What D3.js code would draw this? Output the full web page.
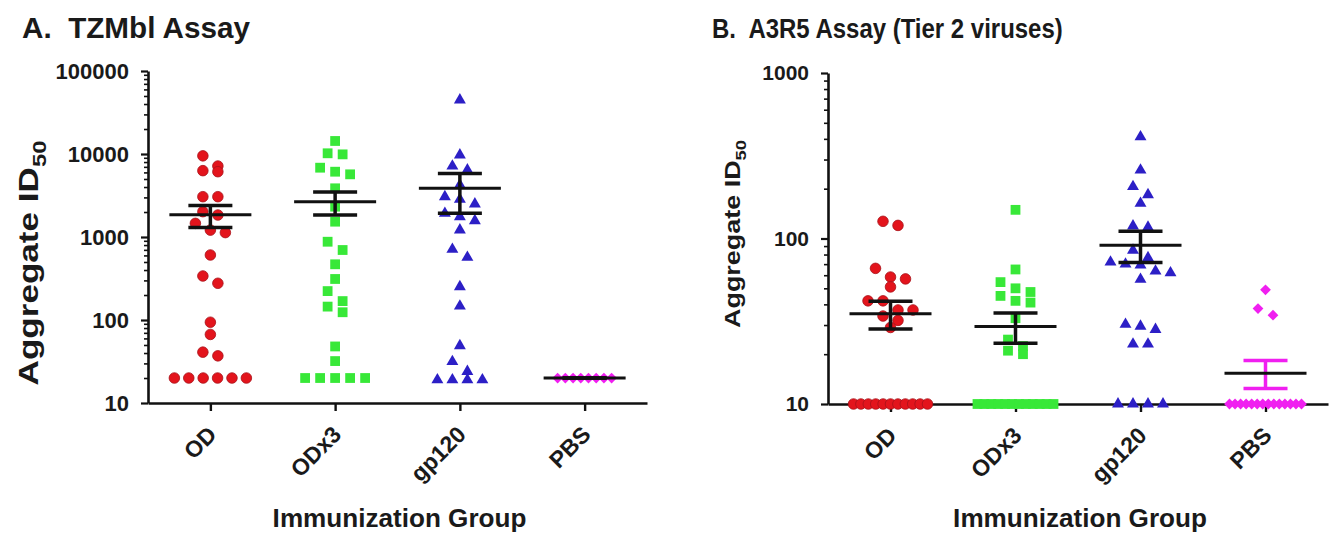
<!DOCTYPE html>
<html>
<head>
<meta charset="utf-8">
<script src="https://cdn.jsdelivr.net/npm/d3@7"></script>
<style>
  body { margin: 0; background: #fff; }
  text { font-family: "Liberation Sans", Arial, sans-serif; font-weight: bold; fill: #1a1a1a; }
</style>
</head>
<body>
<svg id="chart" width="1339" height="535"></svg>
<script>
// groups on the x axis
const groups = ["OD", "ODx3", "gp120", "PBS"];

// A. TZMbl assay, aggregate ID50 per animal
const tzmOD    = [9500, 7160, 6300, 6120, 3060, 3060, 2020, 1840, 1460, 1210, 1130, 607, 339, 277, 94, 67, 41, 37, 20, 20, 20, 20, 20, 20];
const tzmODx3  = [14350, 10200, 9900, 6840, 6120, 5690, 3860, 2320, 1530, 877, 697, 469, 312, 223, 169, 145, 124, 48, 32, 20, 20, 20, 20, 20];
const tzmGp120 = [44770, 9720, 7160, 6410, 4230, 3060, 2845, 2500, 1928, 1757, 1570, 1214, 711, 569, 252, 147, 49, 31.5, 24, 19, 19, 19, 19];
const tzmPBS   = [20, 20, 20, 20, 20, 20, 20, 20];
const tzmTicks = [10, 100, 1000, 10000, 100000];

// B. A3R5 assay (tier 2 viruses)
const a3OD    = [127, 120, 66, 58.5, 57, 51, 42, 42, 37, 37, 34, 32, 29, 10, 10, 10, 10, 10, 10, 10, 10, 10, 10, 10];
const a3ODx3  = [149, 65, 54.5, 50, 47.5, 45, 42, 41, 33, 24.5, 22.4, 21, 20, 10, 10, 10, 10, 10, 10, 10, 10, 10, 10, 10, 10];
const a3Gp120 = [411, 259, 206, 184, 163, 119, 117, 85, 76.5, 72, 70, 69, 63.5, 62, 56.6, 30.3, 29.5, 28.2, 23, 23, 10, 10, 10, 10];
const a3PBS   = [49, 37.7, 34.4, 10, 10, 10, 10, 10, 10, 10, 10, 10, 10, 10, 10, 10, 10];
const a3Ticks = [10, 100, 1000];

const colors  = ["#e3141c", "#38e838", "#2c1fc6", "#f01ff0"];
const symbols = [d3.symbolCircle, d3.symbolSquare, d3.symbolTriangle, d3.symbolSquare];
const symSize = [88, 96, 62, 58];
const symRot  = [0, 0, 0, 45];

const svg = d3.select("#chart");
const FONT = '"Liberation Sans", Arial, sans-serif';

// scale a text horizontally so it spans a given length
function fit(g, len) {
  const w = g.select("text").node().getBBox().width;
  return len / w;
}

function drawPanel(p) {
  const x = d3.scalePoint().domain(groups).range([p.x0, p.x1]).padding(0.5);
  const y = d3.scaleLog().domain(p.domain).range([p.yBottom, p.yTop]);
  const g = svg.append("g");

  // minor ticks
  const minors = y.ticks().filter(d => Math.abs(Math.log10(d) - Math.round(Math.log10(d))) > 1e-6);
  g.append("g")
    .attr("transform", `translate(${p.x0},0)`)
    .call(d3.axisLeft(y).tickValues(minors).tickSize(4).tickSizeOuter(0).tickFormat(""))
    .call(a => a.select(".domain").remove())
    .call(a => a.selectAll("line").attr("stroke", "#111").attr("stroke-width", 1.6));

  // y axis
  g.append("g")
    .attr("transform", `translate(${p.x0},0)`)
    .call(d3.axisLeft(y).tickValues(p.ticks).tickSize(7).tickPadding(12).tickSizeOuter(0).tickFormat(d3.format("d")))
    .call(a => a.select(".domain").attr("stroke", "#111").attr("stroke-width", 2.6))
    .call(a => a.selectAll("line").attr("stroke", "#111").attr("stroke-width", 2.2))
    .call(a => a.selectAll("text").attr("font-size", p.tickFont).attr("fill", "#1a1a1a")
      .style("font-family", FONT).style("font-weight", "bold"));

  // x axis
  g.append("g")
    .attr("transform", `translate(0,${p.yBottom})`)
    .call(d3.axisBottom(x).tickSize(8).tickSizeOuter(0))
    .call(a => a.select(".domain").attr("stroke", "#111").attr("stroke-width", 2.6))
    .call(a => a.selectAll("line").attr("stroke", "#111").attr("stroke-width", 2.4))
    .call(a => a.selectAll("text")
      .attr("font-size", 23)
      .style("font-family", FONT).style("font-weight", "bold")
      .attr("fill", "#1a1a1a")
      .attr("text-anchor", "end")
      .attr("dy", null).attr("y", null)
      .attr("transform", "translate(7,33) rotate(-45)"));

  // points, rows of similar height spread side by side
  p.series.forEach((vals, i) => {
    const cx = x(groups[i]);
    const sorted = vals.slice().sort((a, b) => b - a);
    const rows = [];
    sorted.forEach(v => {
      const py = y(v);
      const row = rows[rows.length - 1];
      if (row && py - row.y0 < 11) row.items.push(v);
      else rows.push({ y0: py, items: [v] });
    });
    const pts = [];
    rows.forEach(r => {
      const n = r.items.length;
      const step = Math.min(15, n > 1 ? p.rowMax[i] / (n - 1) : 15);
      r.items.forEach((v, k) => pts.push({ v, dx: (k - (n - 1) / 2) * step }));
    });
    g.append("g").selectAll("path").data(pts).join("path")
      .attr("d", d3.symbol(symbols[i], symSize[i]))
      .attr("transform", d => `translate(${cx + d.dx},${y(d.v)}) rotate(${symRot[i]})`)
      .attr("fill", colors[i])
      .attr("stroke", i === 0 ? "#a8131a" : "none")
      .attr("stroke-width", 0.8);

    // mean and SEM
    const m = d3.mean(vals);
    const sem = d3.deviation(vals) / Math.sqrt(vals.length);
    const ec = p.errColors[i];
    const eg = g.append("g").attr("stroke-linecap", "butt");
    eg.append("line").attr("x1", cx).attr("x2", cx).attr("y1", y(m + sem)).attr("y2", y(Math.max(m - sem, p.domain[0])))
      .attr("stroke", ec).attr("stroke-width", 3.5);
    [m + sem, m - sem].forEach(v => {
      if (v <= p.domain[0]) return;
      eg.append("line").attr("x1", cx - 22).attr("x2", cx + 22).attr("y1", y(v)).attr("y2", y(v))
        .attr("stroke", ec).attr("stroke-width", 3.5);
    });
    eg.append("line").attr("x1", cx - 41).attr("x2", cx + 41).attr("y1", y(m)).attr("y2", y(m))
      .attr("stroke", "#111").attr("stroke-width", 3);
  });

  // title
  const tg = svg.append("g");
  tg.append("text").attr("font-size", p.titleFont).text(p.title);
  tg.attr("transform", `translate(${p.titleX},38) scale(${fit(tg, p.titleLen)},1)`);

  // y label
  const yg = svg.append("g");
  const yt = yg.append("text").attr("font-size", p.labFont).attr("text-anchor", "middle");
  yt.append("tspan").text("Aggregate ID");
  yt.append("tspan").attr("font-size", p.labFont * 0.68).attr("dy", p.labFont * 0.28).text("50");
  yg.attr("transform", `translate(${p.labX},${p.labY}) rotate(-90) scale(${fit(yg, p.labLen)},1)`);

  // x label
  const xg = svg.append("g");
  xg.append("text").attr("font-size", 25).attr("text-anchor", "middle").text("Immunization Group");
  xg.attr("transform", `translate(${(p.x0 + p.x1) / 2 + 2},527) scale(${fit(xg, 254)},1)`);
}

drawPanel({
  x0: 148, x1: 647, yTop: 71, yBottom: 403, domain: [10, 100000], ticks: tzmTicks,
  series: [tzmOD, tzmODx3, tzmGp120, tzmPBS], errColors: ["#111", "#111", "#111", "#111"],
  rowMax: [72, 72, 72, 54],
  tickFont: 22, title: "A.\u00a0 TZMbl Assay", titleX: 22, titleFont: 29, titleLen: 228,
  labX: 38, labY: 263, labFont: 27, labLen: 245
});

drawPanel({
  x0: 828, x1: 1328, yTop: 73, yBottom: 404, domain: [10, 1000], ticks: a3Ticks,
  series: [a3OD, a3ODx3, a3Gp120, a3PBS], errColors: ["#111", "#111", "#111", colors[3]],
  rowMax: [74, 76, 72, 72],
  tickFont: 21, title: "B.\u00a0 A3R5 Assay (Tier 2 viruses)", titleX: 712, titleFont: 27, titleLen: 351,
  labX: 740, labY: 234, labFont: 22, labLen: 188
});
</script>
</body>
</html>
